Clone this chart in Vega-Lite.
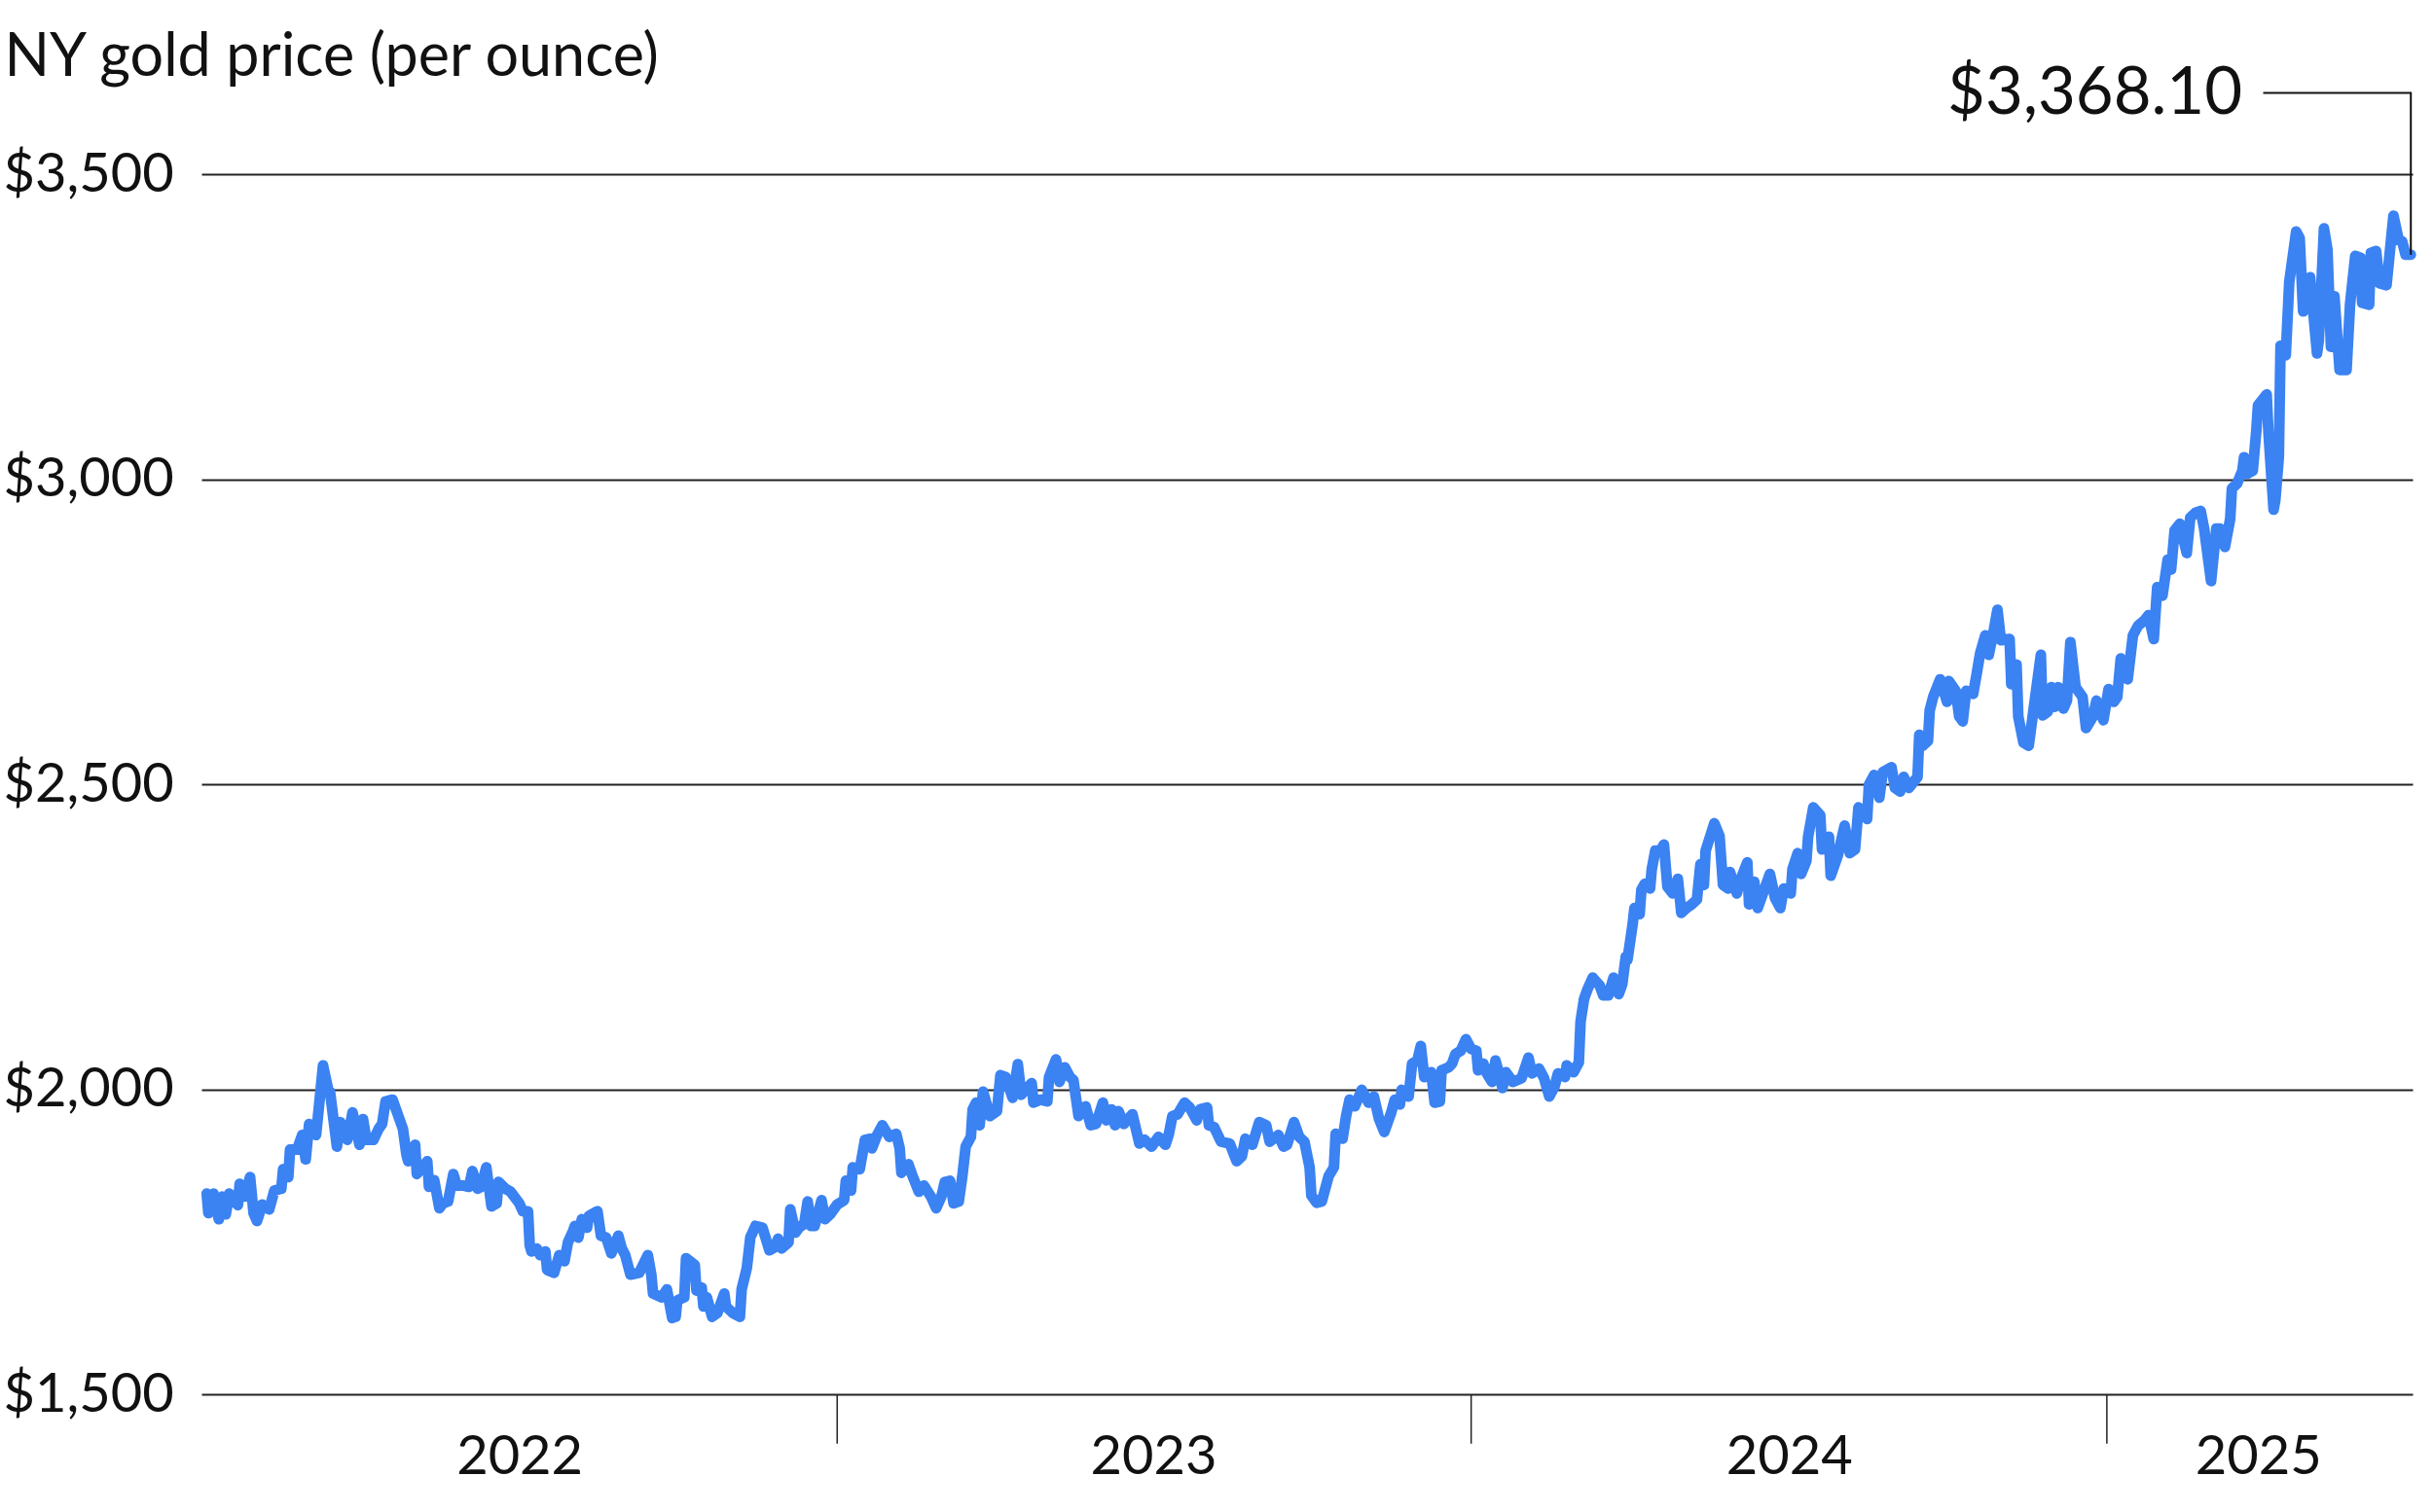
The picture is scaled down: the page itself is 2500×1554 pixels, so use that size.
{
"$schema": "https://vega.github.io/schema/vega-lite/v6.json",
"width": 2272, "height": 1254,
"autosize": {"type": "none"},
"padding": {"left": 207, "top": 179, "right": 21, "bottom": 121},
"background": "white",
"config": {"view": {"stroke": null}, "font": "Lato"},
"datasets": {
"gold": [
{"date":"2022-01-03","price":1829},{"date":"2022-01-04","price":1797},{"date":"2022-01-07","price":1829},{"date":"2022-01-10","price":1787},{"date":"2022-01-12","price":1824},{"date":"2022-01-14","price":1795},{"date":"2022-01-16","price":1829},{"date":"2022-01-21","price":1810},{"date":"2022-01-22","price":1845},{"date":"2022-01-25","price":1824},{"date":"2022-01-28","price":1856},{"date":"2022-01-30","price":1797},
{"date":"2022-02-01","price":1784},{"date":"2022-02-04","price":1811},{"date":"2022-02-08","price":1803},{"date":"2022-02-11","price":1834},{"date":"2022-02-15","price":1837},{"date":"2022-02-16","price":1869},{"date":"2022-02-19","price":1856},{"date":"2022-02-20","price":1901},{"date":"2022-02-24","price":1901},{"date":"2022-02-27","price":1925},
{"date":"2022-03-01","price":1885},{"date":"2022-03-03","price":1943},{"date":"2022-03-07","price":1925},{"date":"2022-03-11","price":2039},{"date":"2022-03-14","price":1999},{"date":"2022-03-15","price":1996},{"date":"2022-03-19","price":1906},{"date":"2022-03-21","price":1946},{"date":"2022-03-25","price":1917},{"date":"2022-03-28","price":1962},
{"date":"2022-04-01","price":1909},{"date":"2022-04-03","price":1951},{"date":"2022-04-05","price":1917},{"date":"2022-04-09","price":1917},{"date":"2022-04-12","price":1935},{"date":"2022-04-14","price":1943},{"date":"2022-04-16","price":1980},{"date":"2022-04-20","price":1983},{"date":"2022-04-24","price":1951},{"date":"2022-04-26","price":1935},{"date":"2022-04-28","price":1893},{"date":"2022-04-29","price":1882},
{"date":"2022-05-03","price":1909},{"date":"2022-05-04","price":1861},{"date":"2022-05-10","price":1882},{"date":"2022-05-11","price":1840},{"date":"2022-05-14","price":1851},{"date":"2022-05-17","price":1805},{"date":"2022-05-19","price":1813},{"date":"2022-05-22","price":1816},{"date":"2022-05-25","price":1861},{"date":"2022-05-27","price":1842},{"date":"2022-05-31","price":1842},
{"date":"2022-06-03","price":1840},{"date":"2022-06-05","price":1866},{"date":"2022-06-08","price":1837},{"date":"2022-06-10","price":1840},{"date":"2022-06-13","price":1872},{"date":"2022-06-16","price":1808},{"date":"2022-06-19","price":1813},{"date":"2022-06-20","price":1848},{"date":"2022-06-24","price":1837},{"date":"2022-06-27","price":1832},
{"date":"2022-07-02","price":1813},{"date":"2022-07-04","price":1800},{"date":"2022-07-07","price":1800},{"date":"2022-07-08","price":1744},{"date":"2022-07-09","price":1734},{"date":"2022-07-12","price":1739},{"date":"2022-07-14","price":1728},{"date":"2022-07-17","price":1734},{"date":"2022-07-18","price":1704},{"date":"2022-07-22","price":1699},{"date":"2022-07-25","price":1728},{"date":"2022-07-28","price":1718},{"date":"2022-07-30","price":1749},
{"date":"2022-08-02","price":1768},{"date":"2022-08-03","price":1776},{"date":"2022-08-05","price":1757},{"date":"2022-08-07","price":1787},{"date":"2022-08-10","price":1773},{"date":"2022-08-11","price":1792},{"date":"2022-08-16","price":1800},{"date":"2022-08-18","price":1760},{"date":"2022-08-21","price":1757},{"date":"2022-08-24","price":1731},{"date":"2022-08-28","price":1760},{"date":"2022-08-30","price":1739},
{"date":"2022-09-01","price":1728},{"date":"2022-09-04","price":1696},{"date":"2022-09-09","price":1699},{"date":"2022-09-14","price":1728},{"date":"2022-09-16","price":1696},{"date":"2022-09-17","price":1665},{"date":"2022-09-22","price":1659},{"date":"2022-09-25","price":1672},{"date":"2022-09-28","price":1625},{"date":"2022-09-30","price":1627},
{"date":"2022-10-01","price":1654},{"date":"2022-10-05","price":1659},{"date":"2022-10-06","price":1723},{"date":"2022-10-11","price":1712},{"date":"2022-10-12","price":1670},{"date":"2022-10-15","price":1675},{"date":"2022-10-16","price":1644},{"date":"2022-10-18","price":1659},{"date":"2022-10-21","price":1627},{"date":"2022-10-24","price":1633},{"date":"2022-10-28","price":1665},{"date":"2022-10-29","price":1644},
{"date":"2022-11-02","price":1633},{"date":"2022-11-06","price":1627},{"date":"2022-11-07","price":1672},{"date":"2022-11-10","price":1707},{"date":"2022-11-12","price":1757},{"date":"2022-11-15","price":1776},{"date":"2022-11-19","price":1773},{"date":"2022-11-23","price":1736},{"date":"2022-11-26","price":1741},{"date":"2022-11-28","price":1755},{"date":"2022-11-30","price":1739},
{"date":"2022-12-04","price":1749},{"date":"2022-12-05","price":1803},{"date":"2022-12-08","price":1765},{"date":"2022-12-10","price":1773},{"date":"2022-12-13","price":1779},{"date":"2022-12-15","price":1816},{"date":"2022-12-17","price":1776},{"date":"2022-12-19","price":1776},{"date":"2022-12-23","price":1818},{"date":"2022-12-25","price":1787},{"date":"2022-12-28","price":1795},
{"date":"2023-01-01","price":1811},{"date":"2023-01-05","price":1818},{"date":"2023-01-06","price":1850},{"date":"2023-01-09","price":1834},{"date":"2023-01-10","price":1872},{"date":"2023-01-14","price":1869},{"date":"2023-01-17","price":1917},{"date":"2023-01-20","price":1919},{"date":"2023-01-21","price":1903},{"date":"2023-01-24","price":1925},{"date":"2023-01-27","price":1941},{"date":"2023-01-31","price":1922},
{"date":"2023-02-04","price":1927},{"date":"2023-02-06","price":1903},{"date":"2023-02-07","price":1863},{"date":"2023-02-11","price":1877},{"date":"2023-02-13","price":1861},{"date":"2023-02-17","price":1832},{"date":"2023-02-20","price":1842},{"date":"2023-02-24","price":1824},{"date":"2023-02-27","price":1805},
{"date":"2023-03-02","price":1824},{"date":"2023-03-04","price":1848},{"date":"2023-03-07","price":1850},{"date":"2023-03-09","price":1813},{"date":"2023-03-12","price":1816},{"date":"2023-03-14","price":1856},{"date":"2023-03-16","price":1906},{"date":"2023-03-19","price":1922},{"date":"2023-03-20","price":1967},{"date":"2023-03-22","price":1978},{"date":"2023-03-24","price":1941},{"date":"2023-03-26","price":1996},{"date":"2023-03-30","price":1956},
{"date":"2023-04-03","price":1964},{"date":"2023-04-05","price":2023},{"date":"2023-04-08","price":2020},{"date":"2023-04-12","price":1986},{"date":"2023-04-15","price":2041},{"date":"2023-04-17","price":1991},{"date":"2023-04-23","price":2010},{"date":"2023-04-24","price":1978},{"date":"2023-04-28","price":1983},
{"date":"2023-05-02","price":1980},{"date":"2023-05-03","price":2020},{"date":"2023-05-07","price":2049},{"date":"2023-05-09","price":2012},{"date":"2023-05-12","price":2036},{"date":"2023-05-15","price":2020},{"date":"2023-05-17","price":2015},{"date":"2023-05-20","price":1956},{"date":"2023-05-24","price":1972},{"date":"2023-05-27","price":1941},{"date":"2023-05-30","price":1943},
{"date":"2023-06-03","price":1978},{"date":"2023-06-05","price":1949},{"date":"2023-06-08","price":1967},{"date":"2023-06-10","price":1941},{"date":"2023-06-12","price":1964},{"date":"2023-06-15","price":1943},{"date":"2023-06-20","price":1959},{"date":"2023-06-24","price":1911},{"date":"2023-06-27","price":1917},
{"date":"2023-07-01","price":1906},{"date":"2023-07-05","price":1922},{"date":"2023-07-09","price":1909},{"date":"2023-07-11","price":1927},{"date":"2023-07-13","price":1956},{"date":"2023-07-16","price":1959},{"date":"2023-07-20","price":1978},{"date":"2023-07-23","price":1970},{"date":"2023-07-27","price":1949},{"date":"2023-07-29","price":1967},
{"date":"2023-08-02","price":1970},{"date":"2023-08-03","price":1941},{"date":"2023-08-06","price":1938},{"date":"2023-08-10","price":1914},{"date":"2023-08-15","price":1911},{"date":"2023-08-19","price":1882},{"date":"2023-08-22","price":1890},{"date":"2023-08-24","price":1919},{"date":"2023-08-28","price":1909},
{"date":"2023-09-01","price":1946},{"date":"2023-09-05","price":1941},{"date":"2023-09-07","price":1914},{"date":"2023-09-12","price":1925},{"date":"2023-09-15","price":1906},{"date":"2023-09-17","price":1909},{"date":"2023-09-21","price":1946},{"date":"2023-09-24","price":1922},{"date":"2023-09-27","price":1914},{"date":"2023-09-30","price":1872},
{"date":"2023-10-01","price":1826},{"date":"2023-10-04","price":1814},{"date":"2023-10-07","price":1816},{"date":"2023-10-11","price":1858},{"date":"2023-10-14","price":1872},{"date":"2023-10-15","price":1927},{"date":"2023-10-19","price":1919},{"date":"2023-10-21","price":1956},{"date":"2023-10-23","price":1983},{"date":"2023-10-26","price":1972},{"date":"2023-10-30","price":1999},
{"date":"2023-11-03","price":1978},{"date":"2023-11-06","price":1988},{"date":"2023-11-09","price":1951},{"date":"2023-11-12","price":1930},{"date":"2023-11-16","price":1962},{"date":"2023-11-18","price":1983},{"date":"2023-11-21","price":1975},{"date":"2023-11-22","price":1999},{"date":"2023-11-26","price":1988},{"date":"2023-11-28","price":2042},
{"date":"2023-12-01","price":2047},{"date":"2023-12-03","price":2071},{"date":"2023-12-05","price":2020},{"date":"2023-12-09","price":2028},{"date":"2023-12-11","price":1978},{"date":"2023-12-14","price":1980},{"date":"2023-12-15","price":2031},{"date":"2023-12-19","price":2036},{"date":"2023-12-21","price":2042},{"date":"2023-12-23","price":2058},{"date":"2023-12-26","price":2063},{"date":"2023-12-29","price":2082},
{"date":"2024-01-01","price":2066},{"date":"2024-01-04","price":2063},{"date":"2024-01-05","price":2031},{"date":"2024-01-08","price":2042},{"date":"2024-01-10","price":2026},{"date":"2024-01-13","price":2012},{"date":"2024-01-15","price":2047},{"date":"2024-01-17","price":2026},{"date":"2024-01-19","price":2002},{"date":"2024-01-21","price":2028},{"date":"2024-01-25","price":2012},{"date":"2024-01-30","price":2018},
{"date":"2024-02-03","price":2052},{"date":"2024-02-05","price":2026},{"date":"2024-02-09","price":2034},{"date":"2024-02-12","price":2018},{"date":"2024-02-15","price":1988},{"date":"2024-02-18","price":2004},{"date":"2024-02-20","price":2026},{"date":"2024-02-24","price":2020},{"date":"2024-02-25","price":2039},{"date":"2024-02-29","price":2028},
{"date":"2024-03-03","price":2044},{"date":"2024-03-04","price":2111},{"date":"2024-03-06","price":2148},{"date":"2024-03-08","price":2164},{"date":"2024-03-11","price":2183},{"date":"2024-03-15","price":2170},{"date":"2024-03-17","price":2154},{"date":"2024-03-20","price":2154},{"date":"2024-03-23","price":2183},{"date":"2024-03-26","price":2156},{"date":"2024-03-28","price":2172},{"date":"2024-03-30","price":2217},{"date":"2024-03-31","price":2212},
{"date":"2024-04-03","price":2271},{"date":"2024-04-04","price":2297},{"date":"2024-04-07","price":2287},{"date":"2024-04-08","price":2327},{"date":"2024-04-10","price":2337},{"date":"2024-04-13","price":2329},{"date":"2024-04-14","price":2361},{"date":"2024-04-16","price":2391},{"date":"2024-04-19","price":2391},{"date":"2024-04-21","price":2401},{"date":"2024-04-23","price":2332},{"date":"2024-04-26","price":2321},{"date":"2024-04-29","price":2345},
{"date":"2024-05-01","price":2289},{"date":"2024-05-04","price":2297},{"date":"2024-05-07","price":2303},{"date":"2024-05-10","price":2311},{"date":"2024-05-12","price":2369},{"date":"2024-05-14","price":2335},{"date":"2024-05-15","price":2391},{"date":"2024-05-20","price":2436},{"date":"2024-05-23","price":2415},{"date":"2024-05-25","price":2335},{"date":"2024-05-28","price":2329},{"date":"2024-05-29","price":2356},
{"date":"2024-06-02","price":2321},{"date":"2024-06-04","price":2343},{"date":"2024-06-08","price":2372},{"date":"2024-06-09","price":2303},{"date":"2024-06-12","price":2340},{"date":"2024-06-14","price":2297},{"date":"2024-06-17","price":2321},{"date":"2024-06-21","price":2353},{"date":"2024-06-24","price":2313},{"date":"2024-06-27","price":2297},{"date":"2024-06-29","price":2329},
{"date":"2024-07-03","price":2321},{"date":"2024-07-04","price":2361},{"date":"2024-07-07","price":2387},{"date":"2024-07-09","price":2353},{"date":"2024-07-12","price":2374},{"date":"2024-07-13","price":2414},{"date":"2024-07-16","price":2462},{"date":"2024-07-20","price":2449},{"date":"2024-07-21","price":2393},{"date":"2024-07-25","price":2414},{"date":"2024-07-26","price":2350},{"date":"2024-07-30","price":2382},
{"date":"2024-08-03","price":2432},{"date":"2024-08-06","price":2387},{"date":"2024-08-09","price":2393},{"date":"2024-08-11","price":2462},{"date":"2024-08-16","price":2443},{"date":"2024-08-17","price":2499},{"date":"2024-08-20","price":2515},{"date":"2024-08-23","price":2478},{"date":"2024-08-25","price":2520},{"date":"2024-08-30","price":2528},
{"date":"2024-09-01","price":2494},{"date":"2024-09-04","price":2488},{"date":"2024-09-06","price":2512},{"date":"2024-09-09","price":2494},{"date":"2024-09-14","price":2512},{"date":"2024-09-15","price":2581},{"date":"2024-09-17","price":2563},{"date":"2024-09-20","price":2571},{"date":"2024-09-21","price":2621},{"date":"2024-09-23","price":2643},{"date":"2024-09-27","price":2672},
{"date":"2024-10-01","price":2635},{"date":"2024-10-02","price":2669},{"date":"2024-10-06","price":2653},{"date":"2024-10-08","price":2611},{"date":"2024-10-10","price":2603},{"date":"2024-10-12","price":2653},{"date":"2024-10-16","price":2648},{"date":"2024-10-18","price":2680},{"date":"2024-10-20","price":2714},{"date":"2024-10-23","price":2744},{"date":"2024-10-25","price":2712},{"date":"2024-10-28","price":2754},{"date":"2024-10-30","price":2786},
{"date":"2024-11-01","price":2736},{"date":"2024-11-06","price":2738},{"date":"2024-11-07","price":2664},{"date":"2024-11-10","price":2696},{"date":"2024-11-11","price":2611},{"date":"2024-11-14","price":2568},{"date":"2024-11-17","price":2563},{"date":"2024-11-20","price":2627},{"date":"2024-11-24","price":2712},{"date":"2024-11-25","price":2613},{"date":"2024-11-28","price":2619},{"date":"2024-11-30","price":2659},
{"date":"2024-12-02","price":2627},{"date":"2024-12-04","price":2659},{"date":"2024-12-07","price":2624},{"date":"2024-12-09","price":2637},{"date":"2024-12-11","price":2733},{"date":"2024-12-14","price":2659},{"date":"2024-12-18","price":2643},{"date":"2024-12-20","price":2592},{"date":"2024-12-24","price":2611},{"date":"2024-12-26","price":2637},{"date":"2024-12-30","price":2605},
{"date":"2025-01-02","price":2656},{"date":"2025-01-05","price":2635},{"date":"2025-01-07","price":2643},{"date":"2025-01-09","price":2706},{"date":"2025-01-13","price":2672},{"date":"2025-01-16","price":2744},{"date":"2025-01-19","price":2760},{"date":"2025-01-22","price":2767},{"date":"2025-01-23","price":2770},{"date":"2025-01-25","price":2777},{"date":"2025-01-28","price":2738},{"date":"2025-01-30","price":2823},
{"date":"2025-02-02","price":2809},{"date":"2025-02-05","price":2868},{"date":"2025-02-07","price":2852},{"date":"2025-02-09","price":2916},{"date":"2025-02-12","price":2927},{"date":"2025-02-16","price":2879},{"date":"2025-02-18","price":2937},{"date":"2025-02-21","price":2945},{"date":"2025-02-24","price":2948},{"date":"2025-02-26","price":2919},
{"date":"2025-03-02","price":2833},{"date":"2025-03-05","price":2919},{"date":"2025-03-07","price":2919},{"date":"2025-03-10","price":2889},{"date":"2025-03-13","price":2935},{"date":"2025-03-14","price":2985},{"date":"2025-03-17","price":2993},{"date":"2025-03-20","price":3014},{"date":"2025-03-21","price":3036},{"date":"2025-03-23","price":3009},{"date":"2025-03-26","price":3014},{"date":"2025-03-28","price":3078},{"date":"2025-03-29","price":3121},
{"date":"2025-04-03","price":3139},{"date":"2025-04-04","price":3078},{"date":"2025-04-07","price":2950},{"date":"2025-04-08","price":2966},{"date":"2025-04-10","price":3036},{"date":"2025-04-11","price":3219},{"date":"2025-04-14","price":3203},{"date":"2025-04-16","price":3323},{"date":"2025-04-20","price":3406},{"date":"2025-04-22","price":3395},{"date":"2025-04-24","price":3275},{"date":"2025-04-28","price":3331},
{"date":"2025-05-02","price":3206},{"date":"2025-05-03","price":3227},{"date":"2025-05-06","price":3411},{"date":"2025-05-08","price":3376},{"date":"2025-05-10","price":3217},{"date":"2025-05-12","price":3300},{"date":"2025-05-15","price":3179},{"date":"2025-05-19","price":3179},{"date":"2025-05-21","price":3286},{"date":"2025-05-22","price":3313},{"date":"2025-05-24","price":3366},{"date":"2025-05-27","price":3363},{"date":"2025-05-28","price":3289},
{"date":"2025-06-01","price":3286},{"date":"2025-06-02","price":3371},{"date":"2025-06-05","price":3374},{"date":"2025-06-07","price":3321},{"date":"2025-06-11","price":3318},{"date":"2025-06-15","price":3432},{"date":"2025-06-18","price":3392},{"date":"2025-06-20","price":3390},{"date":"2025-06-22","price":3368},{"date":"2025-06-25","price":3368.1}
],
"yearticks": [{"date":"2023-01-01"},{"date":"2024-01-01"},{"date":"2025-01-01"}],
"leader": [{"date":"2025-04-01","v":3633,"i":1},{"date":"2025-06-25","v":3633,"i":2},{"date":"2025-06-25","v":3368.1,"i":3}],
"note": [{"date":"2025-03-20","v":3599,"label":"$3,368.10"}]
},
"layer": [
{
"data": {"name": "gold"},
"mark": {"type": "line", "color": "#3b82f2", "strokeWidth": 11, "strokeCap": "round", "strokeJoin": "round"},
"encoding": {
"x": {"field": "date", "type": "temporal",
"scale": {"type": "utc", "domain": [{"year": 2021, "month": 12, "date": 31, "utc": true}, {"year": 2025, "month": 6, "date": 26, "utc": true}]},
"axis": {"values": [{"year": 2022, "month": 7, "date": 2, "utc": true}, {"year": 2023, "month": 7, "date": 2, "utc": true}, {"year": 2024, "month": 7, "date": 2, "utc": true}, {"year": 2025, "month": 3, "date": 29, "utc": true}],
"labelExpr": "utcFormat(datum.value, '%Y')", "ticks": false, "tickSize": 0, "domain": false, "grid": false,
"labelPadding": 81, "labelBaseline": "alphabetic", "labelFontSize": 56, "labelFont": "Lato", "labelColor": "#111",
"labelFlush": false, "labelOverlap": false, "title": null}},
"y": {"field": "price", "type": "quantitative",
"scale": {"domain": [1500, 3500], "nice": false, "zero": false},
"axis": {"values": [1500, 2000, 2500, 3000, 3500], "format": "$,.0f", "labelAlign": "left", "labelPadding": 204,
"ticks": false, "tickSize": 0, "domain": false, "grid": true, "gridColor": "#222", "gridWidth": 2,
"labelFontSize": 56, "labelFont": "Lato", "labelColor": "#111", "labelBaseline": "middle",
"title": "NY gold price (per ounce)", "titleAngle": 0, "titleX": -203, "titleY": -102, "titleAlign": "left",
"titleBaseline": "alphabetic", "titleFontSize": 61, "titleFontWeight": "normal", "titleFont": "Lato", "titleColor": "#111"}}
}
},
{
"data": {"name": "yearticks"},
"mark": {"type": "rule", "color": "#222", "strokeWidth": 1.5},
"encoding": {
"x": {"field": "date", "type": "temporal"},
"y": {"datum": 1500},
"y2": {"datum": 1419}
}
},
{
"data": {"name": "leader"},
"mark": {"type": "line", "color": "#111", "strokeWidth": 2},
"encoding": {
"x": {"field": "date", "type": "temporal"},
"y": {"field": "v", "type": "quantitative"},
"order": {"field": "i"}
}
},
{
"data": {"name": "note"},
"mark": {"type": "text", "align": "right", "baseline": "alphabetic", "fontSize": 67, "font": "Lato", "color": "#111"},
"encoding": {
"x": {"field": "date", "type": "temporal"},
"y": {"field": "v", "type": "quantitative"},
"text": {"field": "label"}
}
}
]
}
